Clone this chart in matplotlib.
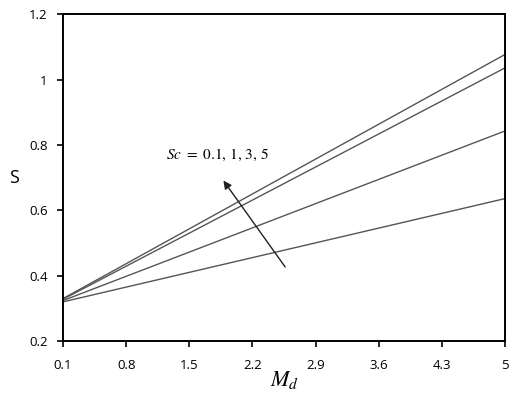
import matplotlib
matplotlib.use("Agg")
import matplotlib.pyplot as plt

plt.rcParams["font.family"] = ["Open Sans", "DejaVu Sans"]
plt.rcParams["mathtext.fontset"] = "stix"

md = [0.1, 5.0]
s_sc01 = [0.330, 1.077]
s_sc1 = [0.328, 1.036]
s_sc3 = [0.324, 0.843]
s_sc5 = [0.320, 0.636]
xticks = [0.1, 0.8, 1.5, 2.2, 2.9, 3.6, 4.3, 5]
yticks = [0.2, 0.4, 0.6, 0.8, 1, 1.2]

fig = plt.figure(figsize=(5.16, 4.17), dpi=100)
ax = fig.add_axes([0.122, 0.182, 0.857, 0.784])

for s in [s_sc01, s_sc1, s_sc3, s_sc5]:
    ax.plot(md, s, color="#555555", lw=1.0)

ax.set_xlim(0.1, 5)
ax.set_ylim(0.2, 1.2)
ax.set_xticks(xticks)
ax.set_xticklabels([f"{t:g}" for t in xticks])
ax.set_yticks(yticks)
ax.set_yticklabels([f"{t:g}" for t in yticks])
for sp in ax.spines.values():
    sp.set_linewidth(1.4)
ax.tick_params(direction="out", length=4, width=1.2, labelsize=9.5, pad=7)
ax.tick_params(axis="x", pad=9)

ax.set_ylabel("S", fontsize=13, rotation=0, va="center")
ax.yaxis.set_label_coords(-0.11, 0.5)
ax.set_xlabel("$M_d$", fontsize=16)
ax.xaxis.set_label_coords(0.5, -0.085)

ax.annotate("", xy=(1.86, 0.698), xytext=(2.58, 0.42),
            arrowprops=dict(arrowstyle="-|>", color="#222222", lw=1.0,
                            mutation_scale=12))
ax.text(1.24, 0.769, r"$Sc\ =\ 0.1,\,1,\,3,\,5$", fontsize=11, va="center")

fig.savefig("out.png", dpi=100)
